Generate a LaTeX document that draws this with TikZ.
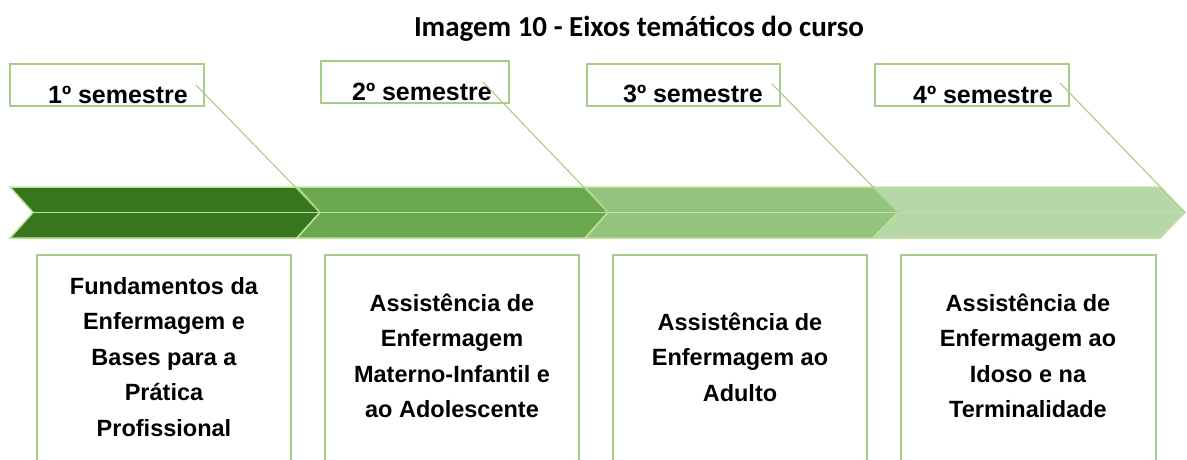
\documentclass[tikz,border=0pt]{standalone}
\usepackage{fontspec}
\setmainfont{Liberation Sans}
\newfontfamily\titulofont{Carlito}
\usepackage{tikz}
\usetikzlibrary{positioning}

\definecolor{verdeA}{HTML}{38761D}
\definecolor{verdeB}{HTML}{6AA84F}
\definecolor{verdeC}{HTML}{93C47D}
\definecolor{verdeD}{HTML}{B6D7A8}
\definecolor{borda}{HTML}{A9CD86}
\definecolor{fio}{HTML}{C3DF9E}

\begin{document}
\begin{tikzpicture}
    [x=1pt,y=-1pt,
     semcaixa/.style={draw=borda,line width=1.3pt,minimum height=42pt,inner sep=0pt},
     semtexto/.style={anchor=base,inner sep=0pt,font=\bfseries\fontsize{25}{25}\selectfont},
     temacaixa/.style={draw=borda,line width=1.3pt},
     tematexto/.style={align=center,inner sep=0pt,font=\bfseries\fontsize{23.5}{35.5}\selectfont},
     seta/.style={draw=fio,line width=1.5pt,line join=miter},
     ligacao/.style={draw=borda,line width=1.1pt}]
    \useasboundingbox (0,0) rectangle (1187,459);
    \clip (0,0) rectangle (1187,459);

    \node[font=\titulofont\bfseries\fontsize{29}{29}\selectfont,anchor=base] (titulo) at (639,36)
        {Imagem 10 - Eixos temáticos do curso};

    % faixa de setas
    \filldraw[seta,fill=verdeA] (10,187) -- (297,187) -- (320,212.5) -- (297,238) -- (10,238) -- (33,212.5) -- cycle;
    \filldraw[seta,fill=verdeB] (297,187) -- (585,187) -- (608,212.5) -- (585,238) -- (297,238) -- (320,212.5) -- cycle;
    \filldraw[seta,fill=verdeC] (585,187) -- (873,187) -- (898,212.5) -- (873,238) -- (585,238) -- (608,212.5) -- cycle;
    \filldraw[seta,fill=verdeD] (873,187) -- (1160,187) -- (1185,212.5) -- (1160,238) -- (873,238) -- (898,212.5) -- cycle;
    \draw[seta] (33,212.5) -- (1185,212.5);

    \coordinate (p1) at (320,212.5);
    \coordinate (p2) at (608,212.5);
    \coordinate (p3) at (898,212.5);
    \coordinate (p4) at (1185,212.5);

    % semestres
    \node[semcaixa,minimum width=194pt] (h1) at (107,85) {};
    \node[semcaixa,minimum width=188pt] (h2) at (415,82) {};
    \node[semcaixa,minimum width=193pt] (h3) at (683.5,85) {};
    \node[semcaixa,minimum width=194pt] (h4) at (972,85) {};

    \node[semtexto] (s1) at (118,103) {1º semestre};
    \node[semtexto] (s2) at (422,100) {2º semestre};
    \node[semtexto] (s3) at (693,102) {3º semestre};
    \node[semtexto] (s4) at (983,103) {4º semestre};

    \coordinate (c1) at (196,85);
    \coordinate (c2) at (483,82);
    \coordinate (c3) at (772,84);
    \coordinate (c4) at (1060,83);

    \draw[ligacao] (c1) -- (p1);
    \draw[ligacao] (c2) -- (p2);
    \draw[ligacao] (c3) -- (p3);
    \draw[ligacao] (c4) -- (p4);

    % eixos
    \draw[temacaixa] (37,255) rectangle (291,475);
    \draw[temacaixa] (325,255) rectangle (579,475);
    \draw[temacaixa] (613,255) rectangle (867,475);
    \draw[temacaixa] (901,255) rectangle (1156,475);

    \node[tematexto] (t1) at (164,357) {Fundamentos da\\Enfermagem e\\Bases para a\\Prática\\Profissional};
    \node[tematexto] (t2) at (452,356) {Assistência de\\Enfermagem\\Materno-Infantil e\\ao Adolescente};
    \node[tematexto] (t3) at (740,357) {Assistência de\\Enfermagem ao\\Adulto};
    \node[tematexto] (t4) at (1028,356) {Assistência de\\Enfermagem ao\\Idoso e na\\Terminalidade};

  \end{tikzpicture}
\end{document}
